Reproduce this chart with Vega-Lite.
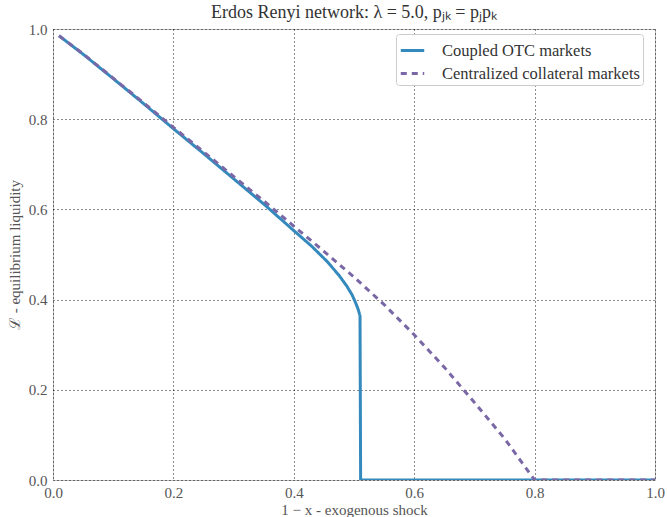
{
  "$schema": "https://vega.github.io/schema/vega-lite/v6.json",
  "autosize": "none",
  "width": 602,
  "height": 451,
  "padding": {"left": 53, "top": 29, "right": 12, "bottom": 37},
  "background": "white",
  "config": {
    "font": "Liberation Serif",
    "view": {"stroke": "#bbbbbb", "strokeWidth": 1},
    "axis": {
      "labelFont": "Liberation Serif",
      "titleFont": "Liberation Serif",
      "labelFontSize": 15,
      "titleFontSize": 15,
      "labelColor": "#555555",
      "titleColor": "#555555",
      "titleFontWeight": "normal",
      "grid": true,
      "gridColor": "#000000",
      "gridDash": [1, 3],
      "gridOpacity": 0.9,
      "gridWidth": 1,
      "domain": false,
      "ticks": false
    }
  },
  "title": {
    "text": "Erdos Renyi network: λ = 5.0, pⱼₖ = pⱼpₖ",
    "font": "Liberation Serif",
    "fontSize": 18,
    "fontWeight": "normal",
    "color": "#333333",
    "anchor": "middle",
    "offset": 0
  },
  "data": {
    "values": [
      {"s": "Coupled OTC markets", "x": 0.01, "y": 0.985},
      {"s": "Coupled OTC markets", "x": 0.05, "y": 0.944},
      {"s": "Coupled OTC markets", "x": 0.1, "y": 0.89},
      {"s": "Coupled OTC markets", "x": 0.15, "y": 0.835},
      {"s": "Coupled OTC markets", "x": 0.2, "y": 0.779},
      {"s": "Coupled OTC markets", "x": 0.25, "y": 0.724},
      {"s": "Coupled OTC markets", "x": 0.3, "y": 0.668},
      {"s": "Coupled OTC markets", "x": 0.35, "y": 0.612},
      {"s": "Coupled OTC markets", "x": 0.4, "y": 0.553},
      {"s": "Coupled OTC markets", "x": 0.43, "y": 0.518},
      {"s": "Coupled OTC markets", "x": 0.455, "y": 0.485},
      {"s": "Coupled OTC markets", "x": 0.475, "y": 0.454},
      {"s": "Coupled OTC markets", "x": 0.488, "y": 0.43},
      {"s": "Coupled OTC markets", "x": 0.497, "y": 0.41},
      {"s": "Coupled OTC markets", "x": 0.503, "y": 0.392},
      {"s": "Coupled OTC markets", "x": 0.507, "y": 0.378},
      {"s": "Coupled OTC markets", "x": 0.51, "y": 0.364},
      {"s": "Coupled OTC markets", "x": 0.511, "y": 0.0},
      {"s": "Coupled OTC markets", "x": 0.7, "y": 0.0},
      {"s": "Coupled OTC markets", "x": 1.0, "y": 0.0},
      {"s": "Centralized collateral markets", "x": 0.01, "y": 0.985},
      {"s": "Centralized collateral markets", "x": 0.05, "y": 0.945},
      {"s": "Centralized collateral markets", "x": 0.1, "y": 0.891},
      {"s": "Centralized collateral markets", "x": 0.15, "y": 0.837},
      {"s": "Centralized collateral markets", "x": 0.2, "y": 0.782},
      {"s": "Centralized collateral markets", "x": 0.25, "y": 0.728},
      {"s": "Centralized collateral markets", "x": 0.3, "y": 0.673},
      {"s": "Centralized collateral markets", "x": 0.35, "y": 0.619},
      {"s": "Centralized collateral markets", "x": 0.4, "y": 0.563},
      {"s": "Centralized collateral markets", "x": 0.45, "y": 0.507},
      {"s": "Centralized collateral markets", "x": 0.5, "y": 0.45},
      {"s": "Centralized collateral markets", "x": 0.55, "y": 0.389},
      {"s": "Centralized collateral markets", "x": 0.6, "y": 0.322},
      {"s": "Centralized collateral markets", "x": 0.65, "y": 0.25},
      {"s": "Centralized collateral markets", "x": 0.7, "y": 0.172},
      {"s": "Centralized collateral markets", "x": 0.75, "y": 0.092},
      {"s": "Centralized collateral markets", "x": 0.8, "y": 0.0},
      {"s": "Centralized collateral markets", "x": 0.9, "y": 0.0},
      {"s": "Centralized collateral markets", "x": 1.0, "y": 0.0}
    ]
  },
  "mark": {"type": "line", "strokeWidth": 3, "clip": true},
  "encoding": {
    "x": {
      "field": "x", "type": "quantitative",
      "scale": {"domain": [0, 1], "nice": false, "zero": false},
      "axis": {"values": [0, 0.2, 0.4, 0.6, 0.8, 1.0], "format": ".1f", "labelFlush": false, "title": "1 − x - exogenous shock", "titlePadding": 2, "labelPadding": 5}
    },
    "y": {
      "field": "y", "type": "quantitative",
      "scale": {"domain": [0, 1], "nice": false},
      "axis": {"values": [0, 0.2, 0.4, 0.6, 0.8, 1.0], "format": ".1f", "labelFlush": false, "title": "ℒ - equilibrium liquidity", "titlePadding": 6, "labelPadding": 6}
    },
    "color": {
      "field": "s", "type": "nominal",
      "scale": {"domain": ["Coupled OTC markets", "Centralized collateral markets"], "range": ["#348ABD", "#7A68A6"]},
      "legend": {
        "title": null,
        "orient": "none",
        "legendX": 343,
        "legendY": 5,
        "symbolType": "stroke",
        "symbolStrokeWidth": 3,
        "symbolSize": 550,
        "labelFont": "Liberation Serif",
        "labelFontSize": 16.5,
        "labelColor": "#333333",
        "labelLimit": 300,
        "labelOffset": 16,
        "strokeColor": "#cccccc",
        "fillColor": "white",
        "padding": 3,
        "cornerRadius": 3,
        "rowPadding": 1
      }
    },
    "strokeDash": {
      "field": "s", "type": "nominal",
      "scale": {"domain": ["Coupled OTC markets", "Centralized collateral markets"], "range": [[1, 0], [6, 5]]},
      "legend": {"title": null}
    },
    "order": {"field": "x", "type": "quantitative"}
  }
}
